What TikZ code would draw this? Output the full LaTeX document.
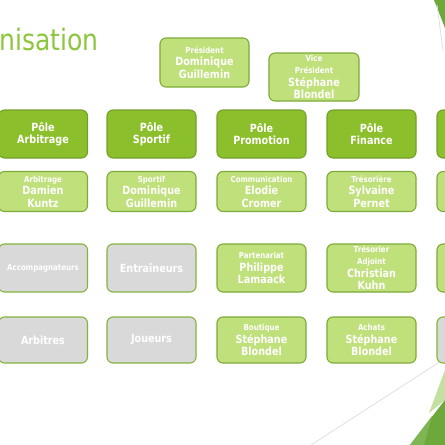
\documentclass[tikz,border=0pt]{standalone}
\usepackage{fontspec}
\setmainfont[FakeStretch=0.85]{DejaVu Sans}
\usepackage{xcolor}
\definecolor{poleFill}{HTML}{8CBF2C}
\definecolor{poleLine}{HTML}{74A02A}
\definecolor{memberFill}{HTML}{BFE07A}
\definecolor{memberLine}{HTML}{7DAB38}
\definecolor{vacantFill}{HTML}{D9D9D9}
\definecolor{vacantLine}{HTML}{86B23E}
\definecolor{titleGreen}{HTML}{8DC63F}
\definecolor{decoDark}{HTML}{6DA83B}
\definecolor{decoMid}{HTML}{7FB553}
\definecolor{decoLight}{HTML}{C4E0A0}
\tikzset{
  every picture/.style={line join=round, line cap=round},
  box/.style={rounded corners=6pt, line width=1.1pt, minimum width=89pt, inner sep=0pt,
    align=center, text=white, font=\bfseries\fontsize{11.3}{12.5}\selectfont},
  pole/.style={box, fill=poleFill, draw=poleLine, minimum height=48pt},
  member/.style={box, fill=memberFill, draw=memberLine},
  vacant/.style={box, fill=vacantFill, draw=vacantLine},
}
\newcommand{\role}[1]{{\fontsize{8.3}{9}\selectfont #1}}

\begin{document}
\begin{tikzpicture}[x=1pt,y=-1pt]
\useasboundingbox (0,0) rectangle (445,445);
\clip (0,0) rectangle (445,445);
\fill[white] (0,0) rectangle (445,445);
% corner decoration
\fill[decoDark] (434,0)--(445,0)--(445,28)--cycle;
\draw[black!12,line width=0.8pt] (437,5)--(443,50);
\draw[black!12,line width=0.8pt] (311,445)--(441,361);
\fill[decoLight] (445,370)--(429,413)--(445,400)--cycle;
\fill[decoDark] (410,445)--(445,400)--(445,445)--cycle;
\fill[decoMid] (410,445)--(432,416)--(424,445)--cycle;
% title
\node[anchor=base west,inner sep=0pt,text=titleGreen,font=\fontsize{29.5}{31}\selectfont] (title) at (-1,50) {nisation};
% bureau
\node[member,minimum height=49pt] (president) at (204.5,62.5) {\role{Président}\\Dominique\\Guillemin};
\node[member,minimum height=48pt,minimum width=90pt] (vice) at (314,77) {\role{Vice}\\\role{Président}\\Stéphane\\Blondel};
% poles
\foreach \x/\nm/\txt in {43/arb/Arbitrage,151.5/spo/Sportif,261.5/pro/Promotion,371.5/fin/Finance}
  \node[pole] (pole-\nm) at (\x,134) {Pôle\\\txt};
\node[pole] (pole-more) at (481.5,134) {};
% responsables
\node[member,minimum height=40pt] (resp-arb) at (43,191.5) {\role{Arbitrage}\\Damien\\Kuntz};
\node[member,minimum height=40pt] (resp-spo) at (151.5,191.5) {\role{Sportif}\\Dominique\\Guillemin};
\node[member,minimum height=40pt] (resp-pro) at (261.5,191.5) {\role{Communication}\\Elodie\\Cromer};
\node[member,minimum height=40pt] (resp-fin) at (371.5,191.5) {\role{Trésorière}\\Sylvaine\\Pernet};
\node[member,minimum height=40pt] (resp-more) at (481.5,191.5) {};
% adjoints
\node[vacant,minimum height=48pt] (adj-arb) at (43,268) {\role{Accompagnateurs}};
\node[vacant,minimum height=48pt] (adj-spo) at (151.5,268) {Entraîneurs};
\node[member,minimum height=48pt] (adj-pro) at (261.5,268) {\role{Partenariat}\\Philippe\\Lamaack};
\node[member,minimum height=48pt] (adj-fin) at (371.5,268) {\role{Trésorier}\\\role{Adjoint}\\Christian\\Kuhn};
\node[member,minimum height=48pt] (adj-more) at (481.5,268) {};
% membres
\node[vacant,minimum height=46pt] (mem-arb) at (43,340) {Arbitres};
\node[vacant,minimum height=46pt] (mem-spo) at (151.5,340) {Joueurs};
\node[member,minimum height=46pt] (mem-pro) at (261.5,340) {\role{Boutique}\\Stéphane\\Blondel};
\node[member,minimum height=46pt] (mem-fin) at (371.5,340) {\role{Achats}\\Stéphane\\Blondel};
\node[vacant,minimum height=46pt] (mem-more) at (481.5,340) {};
\end{tikzpicture}
\end{document}
